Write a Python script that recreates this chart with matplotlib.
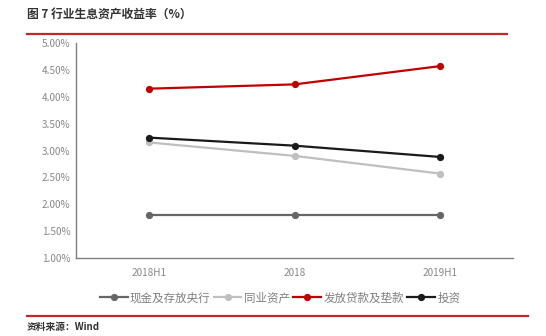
import matplotlib
matplotlib.use("Agg")
import matplotlib.pyplot as plt
from matplotlib.lines import Line2D

plt.rcParams['font.family'] = ['Noto Sans CJK SC', 'DejaVu Sans']

categories = ["2018H1", "2018", "2019H1"]
cash_cb = [1.80, 1.80, 1.80]
interbank = [3.15, 2.90, 2.57]
loans = [4.15, 4.23, 4.57]
invest = [3.24, 3.09, 2.88]
series_names = ["现金及存放央行", "同业资产", "发放贷款及垫款", "投资"]
colors = ["#666666", "#bfbfbf", "#c00000", "#1a1a1a"]
yticks = [1.0, 1.5, 2.0, 2.5, 3.0, 3.5, 4.0, 4.5, 5.0]

W, H = 546, 336
fig = plt.figure(figsize=(W/100, H/100), dpi=100)
ax = fig.add_axes([76/W, 1-258/H, (513-76)/W, (258-43)/H])

x = list(range(len(categories)))
for vals, name, c in zip([cash_cb, interbank, loans, invest], series_names, colors):
    ax.plot(x, vals, color=c, lw=1.6, marker='o', ms=4.2, label=name)

ax.set_xlim(-0.5, len(categories)-0.5)
ax.set_ylim(1.0, 5.0)
ax.set_yticks(yticks)
ax.set_yticklabels([f"{v:.2f}%" for v in yticks])
ax.set_xticks(x)
ax.set_xticklabels(categories)
ax.tick_params(length=0, colors="#888888", labelsize=7.2)
ax.tick_params(axis='x', pad=7)
ax.tick_params(axis='y', pad=4)
for s in ['top', 'right']:
    ax.spines[s].set_visible(False)
for s in ['left', 'bottom']:
    ax.spines[s].set_color("#7f7f7f")
    ax.spines[s].set_linewidth(1.0)

handles = [Line2D([0], [0], color=c, lw=1.6, marker='o', ms=4.2) for c in colors]
fig.legend(handles, series_names, loc='center', bbox_to_anchor=(280/W, 1-298/H),
           ncol=4, frameon=False, fontsize=8.3, handlelength=2.4, handletextpad=0.2,
           columnspacing=0.3, labelcolor="#7f7f7f")

fig.text(27/W, 1-15/H, "图 7 行业生息资产收益率（%）", fontsize=8.5, color="#333333",
         va='center', ha='left', fontweight='bold')
fig.add_artist(Line2D([27/W, 507/W], [1-34/H, 1-34/H], color="#c0282d", lw=1.6))
fig.add_artist(Line2D([27/W, 528/W], [1-316/H, 1-316/H], color="#c0282d", lw=1.6))
fig.text(27/W, 1-327/H, "资料来源：Wind", fontsize=7, color="#333333",
         va='center', ha='left', fontweight='bold')

fig.savefig("out.png", dpi=100, facecolor='white')
